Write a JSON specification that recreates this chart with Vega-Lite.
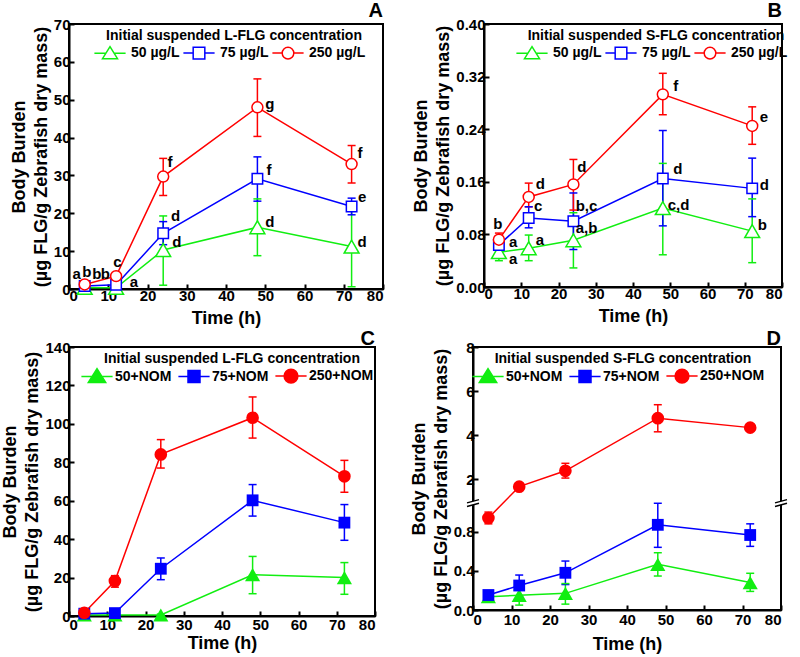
{
  "$schema": "https://vega.github.io/schema/vega-lite/v6.json",
  "padding": {"left": 0, "top": 0, "right": 2, "bottom": 0},
  "config": {
    "font": "Liberation Sans",
    "view": {"stroke": "black", "strokeWidth": 2},
    "axis": {"labelFont": "Liberation Sans", "labelFontSize": 15, "labelFontWeight": "bold", "labelColor": "black", "titleFont": "Liberation Sans", "titleFontSize": 18, "titleFontWeight": "bold", "titleColor": "black", "titleLineHeight": 22, "grid": false, "domainColor": "black", "domainWidth": 2, "tickColor": "black", "tickWidth": 2, "tickSize": -5, "labelPadding": 4, "titlePadding": 3},
    "axisX": {"titlePadding": 6},
    "title": {"font": "Liberation Sans", "fontSize": 20, "fontWeight": "bold", "anchor": "end", "offset": -4, "frame": "group", "color": "black"},
    "legend": {"titleFont": "Liberation Sans", "titleFontSize": 14, "titleFontWeight": "bold", "titleColor": "black", "labelFont": "Liberation Sans", "labelFontSize": 14, "labelFontWeight": "bold", "labelColor": "black", "titleAnchor": "middle", "titlePadding": 3, "titleLimit": 400, "labelLimit": 200, "symbolSize": 144, "symbolStrokeWidth": 1.5, "symbolOpacity": 1, "labelOffset": 14, "columnPadding": 0, "padding": 0, "direction": "horizontal", "orient": "none"},
    "text": {"font": "Liberation Sans", "fontSize": 15, "fontWeight": "bold", "color": "black"}
  },
  "resolve": {"scale": {"color": "independent", "stroke": "independent"}, "legend": {"color": "independent"}},
  "datasets": {
    "A": [
      {"t": 4, "s": "50 µg/L", "y": 0.3, "lo": 0, "hi": 0.5},
      {"t": 12, "s": "50 µg/L", "y": 0.3, "lo": 0, "hi": 0.6},
      {"t": 24, "s": "50 µg/L", "y": 10.3, "lo": 1.0, "hi": 19.3},
      {"t": 48, "s": "50 µg/L", "y": 16.3, "lo": 8.8, "hi": 23.8},
      {"t": 72, "s": "50 µg/L", "y": 11.2, "lo": 0.6, "hi": 22.0},
      {"t": 4, "s": "75 µg/L", "y": 0.8, "lo": 0.2, "hi": 1.3},
      {"t": 12, "s": "75 µg/L", "y": 1.1, "lo": 0.3, "hi": 1.8},
      {"t": 24, "s": "75 µg/L", "y": 14.7, "lo": 11.7, "hi": 17.8},
      {"t": 48, "s": "75 µg/L", "y": 29.1, "lo": 23.2, "hi": 34.9},
      {"t": 72, "s": "75 µg/L", "y": 21.8, "lo": 19.6, "hi": 24.0},
      {"t": 4, "s": "250 µg/L", "y": 1.2, "lo": 0.6, "hi": 1.8},
      {"t": 12, "s": "250 µg/L", "y": 3.4, "lo": 2.5, "hi": 4.3},
      {"t": 24, "s": "250 µg/L", "y": 29.7, "lo": 24.7, "hi": 34.5},
      {"t": 48, "s": "250 µg/L", "y": 48.0, "lo": 40.3, "hi": 55.5},
      {"t": 72, "s": "250 µg/L", "y": 33.0, "lo": 28.0, "hi": 37.9}
    ],
    "Alab": [
      {"t": 0.9, "y": 3.9, "l": "a"},
      {"t": 3.4, "y": 4.6, "l": "b"},
      {"t": 5.9, "y": 3.9, "l": "b"},
      {"t": 8.1, "y": 3.9, "l": "b"},
      {"t": 11.3, "y": 7.2, "l": "c"},
      {"t": 15.5, "y": 1.9, "l": "a"},
      {"t": 25.1, "y": 33.6, "l": "f"},
      {"t": 26.0, "y": 19.3, "l": "d"},
      {"t": 26.3, "y": 12.5, "l": "d"},
      {"t": 50.0, "y": 48.8, "l": "g"},
      {"t": 50.3, "y": 31.4, "l": "f"},
      {"t": 50.0, "y": 17.8, "l": "d"},
      {"t": 73.5, "y": 35.8, "l": "f"},
      {"t": 73.6, "y": 24.4, "l": "e"},
      {"t": 73.5, "y": 12.5, "l": "d"}
    ],
    "B": [
      {"t": 4, "s": "50 µg/L", "y": 0.053, "lo": 0.040, "hi": 0.062},
      {"t": 12, "s": "50 µg/L", "y": 0.059, "lo": 0.040, "hi": 0.079},
      {"t": 24, "s": "50 µg/L", "y": 0.071, "lo": 0.029, "hi": 0.113},
      {"t": 48, "s": "50 µg/L", "y": 0.120, "lo": 0.049, "hi": 0.188},
      {"t": 72, "s": "50 µg/L", "y": 0.085, "lo": 0.037, "hi": 0.134},
      {"t": 4, "s": "75 µg/L", "y": 0.064, "lo": 0.048, "hi": 0.073},
      {"t": 12, "s": "75 µg/L", "y": 0.105, "lo": 0.090, "hi": 0.122},
      {"t": 24, "s": "75 µg/L", "y": 0.100, "lo": 0.057, "hi": 0.143},
      {"t": 48, "s": "75 µg/L", "y": 0.165, "lo": 0.093, "hi": 0.238},
      {"t": 72, "s": "75 µg/L", "y": 0.150, "lo": 0.107, "hi": 0.196},
      {"t": 4, "s": "250 µg/L", "y": 0.072, "lo": 0.062, "hi": 0.082},
      {"t": 12, "s": "250 µg/L", "y": 0.137, "lo": 0.122, "hi": 0.158},
      {"t": 24, "s": "250 µg/L", "y": 0.156, "lo": 0.117, "hi": 0.194},
      {"t": 48, "s": "250 µg/L", "y": 0.293, "lo": 0.262, "hi": 0.325},
      {"t": 72, "s": "250 µg/L", "y": 0.245, "lo": 0.217, "hi": 0.274}
    ],
    "Blab": [
      {"t": 2.5, "y": 0.096, "l": "b"},
      {"t": 6.7, "y": 0.068, "l": "a"},
      {"t": 6.7, "y": 0.042, "l": "a"},
      {"t": 13.9, "y": 0.071, "l": "a"},
      {"t": 13.4, "y": 0.123, "l": "c"},
      {"t": 13.9, "y": 0.157, "l": "d"},
      {"t": 25.0, "y": 0.183, "l": "d"},
      {"t": 24.6, "y": 0.123, "l": "b,c"},
      {"t": 24.6, "y": 0.089, "l": "a,b"},
      {"t": 50.8, "y": 0.305, "l": "f"},
      {"t": 50.8, "y": 0.180, "l": "d"},
      {"t": 49.3, "y": 0.124, "l": "c,d"},
      {"t": 74.0, "y": 0.259, "l": "e"},
      {"t": 74.0, "y": 0.155, "l": "d"},
      {"t": 73.5, "y": 0.094, "l": "b"}
    ],
    "C": [
      {"t": 4, "s": "50+NOM", "y": 0.5, "lo": 0, "hi": 1.0},
      {"t": 12, "s": "50+NOM", "y": 0.5, "lo": 0, "hi": 1.0},
      {"t": 24, "s": "50+NOM", "y": 0.5, "lo": 0, "hi": 1.0},
      {"t": 48, "s": "50+NOM", "y": 21.5, "lo": 11.6, "hi": 31.0},
      {"t": 72, "s": "50+NOM", "y": 20.0, "lo": 11.3, "hi": 27.8},
      {"t": 4, "s": "75+NOM", "y": 1.2, "lo": 0.5, "hi": 2.0},
      {"t": 12, "s": "75+NOM", "y": 1.5, "lo": 0.7, "hi": 2.3},
      {"t": 24, "s": "75+NOM", "y": 24.6, "lo": 18.9, "hi": 30.2},
      {"t": 48, "s": "75+NOM", "y": 60.2, "lo": 52.0, "hi": 68.4},
      {"t": 72, "s": "75+NOM", "y": 48.6, "lo": 39.4, "hi": 58.0},
      {"t": 4, "s": "250+NOM", "y": 1.7, "lo": 0.8, "hi": 2.6},
      {"t": 12, "s": "250+NOM", "y": 18.2, "lo": 15.0, "hi": 21.0},
      {"t": 24, "s": "250+NOM", "y": 84.1, "lo": 77.0, "hi": 91.8},
      {"t": 48, "s": "250+NOM", "y": 103.2, "lo": 92.6, "hi": 114.0},
      {"t": 72, "s": "250+NOM", "y": 72.7, "lo": 64.4, "hi": 81.0}
    ],
    "D": [
      {"t": 4, "s": "50+NOM", "y": 0.136, "lo": 0.09, "hi": 0.17},
      {"t": 12, "s": "50+NOM", "y": 0.15, "lo": 0.05, "hi": 0.25},
      {"t": 24, "s": "50+NOM", "y": 0.17, "lo": 0.06, "hi": 0.27},
      {"t": 48, "s": "50+NOM", "y": 0.466, "lo": 0.347, "hi": 0.585},
      {"t": 72, "s": "50+NOM", "y": 0.28, "lo": 0.19, "hi": 0.375},
      {"t": 4, "s": "75+NOM", "y": 0.153, "lo": 0.13, "hi": 0.18},
      {"t": 12, "s": "75+NOM", "y": 0.25, "lo": 0.136, "hi": 0.357},
      {"t": 24, "s": "75+NOM", "y": 0.38, "lo": 0.26, "hi": 0.50},
      {"t": 48, "s": "75+NOM", "y": 0.87, "lo": 0.64, "hi": 1.09},
      {"t": 72, "s": "75+NOM", "y": 0.766, "lo": 0.65, "hi": 0.88},
      {"t": 4, "s": "250+NOM", "y": 0.94, "lo": 0.88, "hi": 1.0},
      {"t": 12, "s": "250+NOM", "y": 1.66, "lo": 1.6, "hi": 1.72},
      {"t": 24, "s": "250+NOM", "y": 2.38, "lo": 2.05, "hi": 2.72},
      {"t": 48, "s": "250+NOM", "y": 4.77, "lo": 4.15, "hi": 5.38},
      {"t": 72, "s": "250+NOM", "y": 4.34, "lo": 4.24, "hi": 4.44}
    ],
    "Dbreak": [
      {"t": 0, "y": 1.1},
      {"t": 80, "y": 1.1}
    ]
  },
  "spacing": 0,
  "vconcat": [
    {
      "spacing": 26,
      "resolve": {"scale": {"color": "independent", "stroke": "independent"}, "legend": {"color": "independent"}},
      "hconcat": [
        {
          "width": 314, "height": 265,
          "title": {"text": "A"},
          "data": {"name": "A"},
          "encoding": {"x": {"field": "t", "type": "quantitative", "scale": {"domain": [0, 80], "nice": false}, "axis": {"values": [0, 10, 20, 30, 40, 50, 60, 70, 80], "title": "Time (h)"}}},
          "layer": [
            {"mark": {"type": "rule", "strokeWidth": 1.5},
             "encoding": {"y": {"field": "lo", "type": "quantitative", "scale": {"domain": [0, 70], "nice": false}, "axis": {"values": [0, 10, 20, 30, 40, 50, 60, 70], "title": ["Body Burden", "(µg FLG/g Zebrafish dry mass)"]}}, "y2": {"field": "hi"},
               "stroke": {"field": "s", "type": "nominal", "scale": {"domain": ["250 µg/L", "75 µg/L", "50 µg/L"], "range": ["#ff0000", "#0000ff", "#11ee11"]}, "legend": null}}},
            {"mark": {"type": "point", "shape": "stroke", "size": 64, "strokeWidth": 1.5, "opacity": 1},
             "encoding": {"y": {"field": "lo", "type": "quantitative", "scale": {"domain": [0, 70], "nice": false}, "axis": {"values": [0, 10, 20, 30, 40, 50, 60, 70], "title": ["Body Burden", "(µg FLG/g Zebrafish dry mass)"]}},
               "stroke": {"field": "s", "type": "nominal", "scale": {"domain": ["250 µg/L", "75 µg/L", "50 µg/L"], "range": ["#ff0000", "#0000ff", "#11ee11"]}, "legend": null}}},
            {"mark": {"type": "point", "shape": "stroke", "size": 64, "strokeWidth": 1.5, "opacity": 1},
             "encoding": {"y": {"field": "hi", "type": "quantitative", "scale": {"domain": [0, 70], "nice": false}, "axis": {"values": [0, 10, 20, 30, 40, 50, 60, 70], "title": ["Body Burden", "(µg FLG/g Zebrafish dry mass)"]}},
               "stroke": {"field": "s", "type": "nominal", "scale": {"domain": ["250 µg/L", "75 µg/L", "50 µg/L"], "range": ["#ff0000", "#0000ff", "#11ee11"]}, "legend": null}}},
            {"mark": {"type": "line", "strokeWidth": 1.5},
             "encoding": {"y": {"field": "y", "type": "quantitative", "scale": {"domain": [0, 70], "nice": false}, "axis": {"values": [0, 10, 20, 30, 40, 50, 60, 70], "title": ["Body Burden", "(µg FLG/g Zebrafish dry mass)"]}},
               "stroke": {"field": "s", "type": "nominal", "scale": {"domain": ["250 µg/L", "75 µg/L", "50 µg/L"], "range": ["#ff0000", "#0000ff", "#11ee11"]}, "legend": null}}},
            {"transform": [{"filter": {"field": "s", "equal": "50 µg/L"}}],
             "mark": {"type": "point", "shape": "triangle-up", "size": 220, "filled": false, "fill": "white", "strokeWidth": 1.5, "opacity": 1},
             "encoding": {"y": {"field": "y", "type": "quantitative", "scale": {"domain": [0, 70], "nice": false}, "axis": {"values": [0, 10, 20, 30, 40, 50, 60, 70], "title": ["Body Burden", "(µg FLG/g Zebrafish dry mass)"]}},
               "color": {"field": "s", "type": "nominal", "scale": {"domain": ["50 µg/L", "75 µg/L", "250 µg/L"], "range": ["#11ee11", "#0000ff", "#ff0000"]},
                 "legend": {"title": "Initial suspended L-FLG concentration", "legendX": 34, "legendY": 5, "symbolFillColor": "white",
                   "symbolType": {"expr": "datum.value == '50 µg/L' ? 'M-2.6,0L-0.69,0M0.69,0L2.6,0M0,-1.1L1.25,0.9L-1.25,0.9Z' : datum.value == '75 µg/L' ? 'M-2.6,0L-0.97,0M0.97,0L2.6,0M-0.97,-0.97L0.97,-0.97L0.97,0.97L-0.97,0.97Z' : 'M-2.6,0L-0.97,0M0.97,0L2.6,0M0.97,0A0.97,0.97,0,1,1,-0.97,0A0.97,0.97,0,1,1,0.97,0Z'"}}}}},
            {"transform": [{"filter": {"field": "s", "equal": "75 µg/L"}}],
             "mark": {"type": "point", "shape": "square", "size": 110, "filled": false, "fill": "white", "strokeWidth": 1.5, "opacity": 1},
             "encoding": {"y": {"field": "y", "type": "quantitative", "scale": {"domain": [0, 70], "nice": false}, "axis": {"values": [0, 10, 20, 30, 40, 50, 60, 70], "title": ["Body Burden", "(µg FLG/g Zebrafish dry mass)"]}},
               "color": {"field": "s", "type": "nominal", "scale": {"domain": ["50 µg/L", "75 µg/L", "250 µg/L"], "range": ["#11ee11", "#0000ff", "#ff0000"]},
                 "legend": {"title": "Initial suspended L-FLG concentration", "legendX": 34, "legendY": 5, "symbolFillColor": "white",
                   "symbolType": {"expr": "datum.value == '50 µg/L' ? 'M-2.6,0L-0.69,0M0.69,0L2.6,0M0,-1.1L1.25,0.9L-1.25,0.9Z' : datum.value == '75 µg/L' ? 'M-2.6,0L-0.97,0M0.97,0L2.6,0M-0.97,-0.97L0.97,-0.97L0.97,0.97L-0.97,0.97Z' : 'M-2.6,0L-0.97,0M0.97,0L2.6,0M0.97,0A0.97,0.97,0,1,1,-0.97,0A0.97,0.97,0,1,1,0.97,0Z'"}}}}},
            {"transform": [{"filter": {"field": "s", "equal": "250 µg/L"}}],
             "mark": {"type": "point", "shape": "circle", "size": 120, "filled": false, "fill": "white", "strokeWidth": 1.5, "opacity": 1},
             "encoding": {"y": {"field": "y", "type": "quantitative", "scale": {"domain": [0, 70], "nice": false}, "axis": {"values": [0, 10, 20, 30, 40, 50, 60, 70], "title": ["Body Burden", "(µg FLG/g Zebrafish dry mass)"]}},
               "color": {"field": "s", "type": "nominal", "scale": {"domain": ["50 µg/L", "75 µg/L", "250 µg/L"], "range": ["#11ee11", "#0000ff", "#ff0000"]},
                 "legend": {"title": "Initial suspended L-FLG concentration", "legendX": 34, "legendY": 5, "symbolFillColor": "white",
                   "symbolType": {"expr": "datum.value == '50 µg/L' ? 'M-2.6,0L-0.69,0M0.69,0L2.6,0M0,-1.1L1.25,0.9L-1.25,0.9Z' : datum.value == '75 µg/L' ? 'M-2.6,0L-0.97,0M0.97,0L2.6,0M-0.97,-0.97L0.97,-0.97L0.97,0.97L-0.97,0.97Z' : 'M-2.6,0L-0.97,0M0.97,0L2.6,0M0.97,0A0.97,0.97,0,1,1,-0.97,0A0.97,0.97,0,1,1,0.97,0Z'"}}}}},
            {"data": {"name": "Alab"}, "mark": {"type": "text", "align": "left", "baseline": "middle"},
             "encoding": {"y": {"field": "y", "type": "quantitative", "scale": {"domain": [0, 70], "nice": false}, "axis": {"values": [0, 10, 20, 30, 40, 50, 60, 70], "title": ["Body Burden", "(µg FLG/g Zebrafish dry mass)"]}}, "text": {"field": "l"}}}
          ]
        },
        {
          "width": 298, "height": 263,
          "title": {"text": "B"},
          "data": {"name": "B"},
          "encoding": {"x": {"field": "t", "type": "quantitative", "scale": {"domain": [0, 80], "nice": false}, "axis": {"values": [0, 10, 20, 30, 40, 50, 60, 70, 80], "title": "Time (h)"}}},
          "layer": [
            {"mark": {"type": "rule", "strokeWidth": 1.5},
             "encoding": {"y": {"field": "lo", "type": "quantitative", "scale": {"domain": [0, 0.4], "nice": false}, "axis": {"values": [0, 0.08, 0.16, 0.24, 0.32, 0.4], "format": ".2f", "title": ["Body Burden", "(µg FLG/g Zebrafish dry mass)"]}}, "y2": {"field": "hi"},
               "stroke": {"field": "s", "type": "nominal", "scale": {"domain": ["250 µg/L", "75 µg/L", "50 µg/L"], "range": ["#ff0000", "#0000ff", "#11ee11"]}, "legend": null}}},
            {"mark": {"type": "point", "shape": "stroke", "size": 64, "strokeWidth": 1.5, "opacity": 1},
             "encoding": {"y": {"field": "lo", "type": "quantitative", "scale": {"domain": [0, 0.4], "nice": false}, "axis": {"values": [0, 0.08, 0.16, 0.24, 0.32, 0.4], "format": ".2f", "title": ["Body Burden", "(µg FLG/g Zebrafish dry mass)"]}},
               "stroke": {"field": "s", "type": "nominal", "scale": {"domain": ["250 µg/L", "75 µg/L", "50 µg/L"], "range": ["#ff0000", "#0000ff", "#11ee11"]}, "legend": null}}},
            {"mark": {"type": "point", "shape": "stroke", "size": 64, "strokeWidth": 1.5, "opacity": 1},
             "encoding": {"y": {"field": "hi", "type": "quantitative", "scale": {"domain": [0, 0.4], "nice": false}, "axis": {"values": [0, 0.08, 0.16, 0.24, 0.32, 0.4], "format": ".2f", "title": ["Body Burden", "(µg FLG/g Zebrafish dry mass)"]}},
               "stroke": {"field": "s", "type": "nominal", "scale": {"domain": ["250 µg/L", "75 µg/L", "50 µg/L"], "range": ["#ff0000", "#0000ff", "#11ee11"]}, "legend": null}}},
            {"mark": {"type": "line", "strokeWidth": 1.5},
             "encoding": {"y": {"field": "y", "type": "quantitative", "scale": {"domain": [0, 0.4], "nice": false}, "axis": {"values": [0, 0.08, 0.16, 0.24, 0.32, 0.4], "format": ".2f", "title": ["Body Burden", "(µg FLG/g Zebrafish dry mass)"]}},
               "stroke": {"field": "s", "type": "nominal", "scale": {"domain": ["250 µg/L", "75 µg/L", "50 µg/L"], "range": ["#ff0000", "#0000ff", "#11ee11"]}, "legend": null}}},
            {"transform": [{"filter": {"field": "s", "equal": "50 µg/L"}}],
             "mark": {"type": "point", "shape": "triangle-up", "size": 220, "filled": false, "fill": "white", "strokeWidth": 1.5, "opacity": 1},
             "encoding": {"y": {"field": "y", "type": "quantitative", "scale": {"domain": [0, 0.4], "nice": false}, "axis": {"values": [0, 0.08, 0.16, 0.24, 0.32, 0.4], "format": ".2f", "title": ["Body Burden", "(µg FLG/g Zebrafish dry mass)"]}},
               "color": {"field": "s", "type": "nominal", "scale": {"domain": ["50 µg/L", "75 µg/L", "250 µg/L"], "range": ["#11ee11", "#0000ff", "#ff0000"]},
                 "legend": {"title": "Initial suspended S-FLG concentration", "legendX": 41, "legendY": 5, "symbolFillColor": "white",
                   "symbolType": {"expr": "datum.value == '50 µg/L' ? 'M-2.6,0L-0.69,0M0.69,0L2.6,0M0,-1.1L1.25,0.9L-1.25,0.9Z' : datum.value == '75 µg/L' ? 'M-2.6,0L-0.97,0M0.97,0L2.6,0M-0.97,-0.97L0.97,-0.97L0.97,0.97L-0.97,0.97Z' : 'M-2.6,0L-0.97,0M0.97,0L2.6,0M0.97,0A0.97,0.97,0,1,1,-0.97,0A0.97,0.97,0,1,1,0.97,0Z'"}}}}},
            {"transform": [{"filter": {"field": "s", "equal": "75 µg/L"}}],
             "mark": {"type": "point", "shape": "square", "size": 110, "filled": false, "fill": "white", "strokeWidth": 1.5, "opacity": 1},
             "encoding": {"y": {"field": "y", "type": "quantitative", "scale": {"domain": [0, 0.4], "nice": false}, "axis": {"values": [0, 0.08, 0.16, 0.24, 0.32, 0.4], "format": ".2f", "title": ["Body Burden", "(µg FLG/g Zebrafish dry mass)"]}},
               "color": {"field": "s", "type": "nominal", "scale": {"domain": ["50 µg/L", "75 µg/L", "250 µg/L"], "range": ["#11ee11", "#0000ff", "#ff0000"]},
                 "legend": {"title": "Initial suspended S-FLG concentration", "legendX": 41, "legendY": 5, "symbolFillColor": "white",
                   "symbolType": {"expr": "datum.value == '50 µg/L' ? 'M-2.6,0L-0.69,0M0.69,0L2.6,0M0,-1.1L1.25,0.9L-1.25,0.9Z' : datum.value == '75 µg/L' ? 'M-2.6,0L-0.97,0M0.97,0L2.6,0M-0.97,-0.97L0.97,-0.97L0.97,0.97L-0.97,0.97Z' : 'M-2.6,0L-0.97,0M0.97,0L2.6,0M0.97,0A0.97,0.97,0,1,1,-0.97,0A0.97,0.97,0,1,1,0.97,0Z'"}}}}},
            {"transform": [{"filter": {"field": "s", "equal": "250 µg/L"}}],
             "mark": {"type": "point", "shape": "circle", "size": 120, "filled": false, "fill": "white", "strokeWidth": 1.5, "opacity": 1},
             "encoding": {"y": {"field": "y", "type": "quantitative", "scale": {"domain": [0, 0.4], "nice": false}, "axis": {"values": [0, 0.08, 0.16, 0.24, 0.32, 0.4], "format": ".2f", "title": ["Body Burden", "(µg FLG/g Zebrafish dry mass)"]}},
               "color": {"field": "s", "type": "nominal", "scale": {"domain": ["50 µg/L", "75 µg/L", "250 µg/L"], "range": ["#11ee11", "#0000ff", "#ff0000"]},
                 "legend": {"title": "Initial suspended S-FLG concentration", "legendX": 41, "legendY": 5, "symbolFillColor": "white",
                   "symbolType": {"expr": "datum.value == '50 µg/L' ? 'M-2.6,0L-0.69,0M0.69,0L2.6,0M0,-1.1L1.25,0.9L-1.25,0.9Z' : datum.value == '75 µg/L' ? 'M-2.6,0L-0.97,0M0.97,0L2.6,0M-0.97,-0.97L0.97,-0.97L0.97,0.97L-0.97,0.97Z' : 'M-2.6,0L-0.97,0M0.97,0L2.6,0M0.97,0A0.97,0.97,0,1,1,-0.97,0A0.97,0.97,0,1,1,0.97,0Z'"}}}}},
            {"data": {"name": "Blab"}, "mark": {"type": "text", "align": "left", "baseline": "middle"},
             "encoding": {"y": {"field": "y", "type": "quantitative", "scale": {"domain": [0, 0.4], "nice": false}, "axis": {"values": [0, 0.08, 0.16, 0.24, 0.32, 0.4], "format": ".2f", "title": ["Body Burden", "(µg FLG/g Zebrafish dry mass)"]}}, "text": {"field": "l"}}}
          ]
        }
      ]
    },
    {
      "spacing": 32,
      "resolve": {"scale": {"color": "independent", "stroke": "independent"}, "legend": {"color": "independent"}},
      "hconcat": [
        {
          "width": 306, "height": 269,
          "title": {"text": "C", "offset": -9},
          "data": {"name": "C"},
          "encoding": {"x": {"field": "t", "type": "quantitative", "scale": {"domain": [0, 80], "nice": false}, "axis": {"values": [0, 10, 20, 30, 40, 50, 60, 70, 80], "title": "Time (h)", "titlePadding": 2, "labelPadding": 6}}},
          "layer": [
            {"mark": {"type": "rule", "strokeWidth": 1.5},
             "encoding": {"y": {"field": "lo", "type": "quantitative", "scale": {"domain": [0, 140], "nice": false}, "axis": {"values": [0, 20, 40, 60, 80, 100, 120, 140], "title": ["Body Burden", "(µg FLG/g Zebrafish dry mass)"]}}, "y2": {"field": "hi"},
               "stroke": {"field": "s", "type": "nominal", "scale": {"domain": ["250+NOM", "75+NOM", "50+NOM"], "range": ["#ff0000", "#0000ff", "#11ee11"]}, "legend": null}}},
            {"mark": {"type": "point", "shape": "stroke", "size": 64, "strokeWidth": 1.5, "opacity": 1},
             "encoding": {"y": {"field": "lo", "type": "quantitative", "scale": {"domain": [0, 140], "nice": false}, "axis": {"values": [0, 20, 40, 60, 80, 100, 120, 140], "title": ["Body Burden", "(µg FLG/g Zebrafish dry mass)"]}},
               "stroke": {"field": "s", "type": "nominal", "scale": {"domain": ["250+NOM", "75+NOM", "50+NOM"], "range": ["#ff0000", "#0000ff", "#11ee11"]}, "legend": null}}},
            {"mark": {"type": "point", "shape": "stroke", "size": 64, "strokeWidth": 1.5, "opacity": 1},
             "encoding": {"y": {"field": "hi", "type": "quantitative", "scale": {"domain": [0, 140], "nice": false}, "axis": {"values": [0, 20, 40, 60, 80, 100, 120, 140], "title": ["Body Burden", "(µg FLG/g Zebrafish dry mass)"]}},
               "stroke": {"field": "s", "type": "nominal", "scale": {"domain": ["250+NOM", "75+NOM", "50+NOM"], "range": ["#ff0000", "#0000ff", "#11ee11"]}, "legend": null}}},
            {"mark": {"type": "line", "strokeWidth": 1.5},
             "encoding": {"y": {"field": "y", "type": "quantitative", "scale": {"domain": [0, 140], "nice": false}, "axis": {"values": [0, 20, 40, 60, 80, 100, 120, 140], "title": ["Body Burden", "(µg FLG/g Zebrafish dry mass)"]}},
               "stroke": {"field": "s", "type": "nominal", "scale": {"domain": ["250+NOM", "75+NOM", "50+NOM"], "range": ["#ff0000", "#0000ff", "#11ee11"]}, "legend": null}}},
            {"transform": [{"filter": {"field": "s", "equal": "50+NOM"}}],
             "mark": {"type": "point", "shape": "triangle-up", "size": 230, "filled": true, "opacity": 1},
             "encoding": {"y": {"field": "y", "type": "quantitative", "scale": {"domain": [0, 140], "nice": false}, "axis": {"values": [0, 20, 40, 60, 80, 100, 120, 140], "title": ["Body Burden", "(µg FLG/g Zebrafish dry mass)"]}},
               "color": {"field": "s", "type": "nominal", "scale": {"domain": ["50+NOM", "75+NOM", "250+NOM"], "range": ["#11ee11", "#0000ff", "#ff0000"]},
                 "legend": {"title": "Initial suspended L-FLG concentration", "legendX": 21, "legendY": 5, "columnPadding": 3, "labelOffset": 11,
                   "symbolStrokeColor": {"expr": "datum.value == '50+NOM' ? '#11ee11' : datum.value == '75+NOM' ? '#0000ff' : '#ff0000'"},
                   "symbolType": {"expr": "datum.value == '50+NOM' ? 'M-2.6,0L-0.7,0M0.7,0L2.6,0M0,-1.3L1.45,1.0L-1.45,1.0Z' : datum.value == '75+NOM' ? 'M-2.6,0L-1,0M1,0L2.6,0M-1,-1L1,-1L1,1L-1,1Z' : 'M-2.6,0L-1.15,0M1.15,0L2.6,0M1.15,0A1.15,1.15,0,1,1,-1.15,0A1.15,1.15,0,1,1,1.15,0Z'"}}}}},
            {"transform": [{"filter": {"field": "s", "equal": "75+NOM"}}],
             "mark": {"type": "point", "shape": "square", "size": 140, "filled": true, "opacity": 1},
             "encoding": {"y": {"field": "y", "type": "quantitative", "scale": {"domain": [0, 140], "nice": false}, "axis": {"values": [0, 20, 40, 60, 80, 100, 120, 140], "title": ["Body Burden", "(µg FLG/g Zebrafish dry mass)"]}},
               "color": {"field": "s", "type": "nominal", "scale": {"domain": ["50+NOM", "75+NOM", "250+NOM"], "range": ["#11ee11", "#0000ff", "#ff0000"]},
                 "legend": {"title": "Initial suspended L-FLG concentration", "legendX": 21, "legendY": 5, "columnPadding": 3, "labelOffset": 11,
                   "symbolStrokeColor": {"expr": "datum.value == '50+NOM' ? '#11ee11' : datum.value == '75+NOM' ? '#0000ff' : '#ff0000'"},
                   "symbolType": {"expr": "datum.value == '50+NOM' ? 'M-2.6,0L-0.7,0M0.7,0L2.6,0M0,-1.3L1.45,1.0L-1.45,1.0Z' : datum.value == '75+NOM' ? 'M-2.6,0L-1,0M1,0L2.6,0M-1,-1L1,-1L1,1L-1,1Z' : 'M-2.6,0L-1.15,0M1.15,0L2.6,0M1.15,0A1.15,1.15,0,1,1,-1.15,0A1.15,1.15,0,1,1,1.15,0Z'"}}}}},
            {"transform": [{"filter": {"field": "s", "equal": "250+NOM"}}],
             "mark": {"type": "point", "shape": "circle", "size": 160, "filled": true, "opacity": 1},
             "encoding": {"y": {"field": "y", "type": "quantitative", "scale": {"domain": [0, 140], "nice": false}, "axis": {"values": [0, 20, 40, 60, 80, 100, 120, 140], "title": ["Body Burden", "(µg FLG/g Zebrafish dry mass)"]}},
               "color": {"field": "s", "type": "nominal", "scale": {"domain": ["50+NOM", "75+NOM", "250+NOM"], "range": ["#11ee11", "#0000ff", "#ff0000"]},
                 "legend": {"title": "Initial suspended L-FLG concentration", "legendX": 21, "legendY": 5, "columnPadding": 3, "labelOffset": 11,
                   "symbolStrokeColor": {"expr": "datum.value == '50+NOM' ? '#11ee11' : datum.value == '75+NOM' ? '#0000ff' : '#ff0000'"},
                   "symbolType": {"expr": "datum.value == '50+NOM' ? 'M-2.6,0L-0.7,0M0.7,0L2.6,0M0,-1.3L1.45,1.0L-1.45,1.0Z' : datum.value == '75+NOM' ? 'M-2.6,0L-1,0M1,0L2.6,0M-1,-1L1,-1L1,1L-1,1Z' : 'M-2.6,0L-1.15,0M1.15,0L2.6,0M1.15,0A1.15,1.15,0,1,1,-1.15,0A1.15,1.15,0,1,1,1.15,0Z'"}}}}}
          ]
        },
        {
          "width": 308, "height": 263,
          "title": {"text": "D", "offset": -9},
          "data": {"name": "D"},
          "encoding": {"x": {"field": "t", "type": "quantitative", "scale": {"domain": [0, 80], "nice": false}, "axis": {"values": [0, 10, 20, 30, 40, 50, 60, 70, 80], "title": "Time (h)", "titlePadding": 8, "labelPadding": 7}}},
          "layer": [
            {"mark": {"type": "rule", "strokeWidth": 1.5},
             "encoding": {"y": {"field": "lo", "type": "quantitative", "scale": {"domain": [0, 1.1, 1.10001, 8], "range": [263, 155.3, 152, 0], "nice": false, "zero": false}, "axis": {"values": [0, 0.4, 0.8, 2, 4, 6, 8], "labelExpr": "datum.value < 1.5 ? format(datum.value, '.1f') : format(datum.value, 'd')", "title": ["Body Burden", "(µg FLG/g Zebrafish dry mass)"]}}, "y2": {"field": "hi"},
               "stroke": {"field": "s", "type": "nominal", "scale": {"domain": ["250+NOM", "75+NOM", "50+NOM"], "range": ["#ff0000", "#0000ff", "#11ee11"]}, "legend": null}}},
            {"mark": {"type": "point", "shape": "stroke", "size": 64, "strokeWidth": 1.5, "opacity": 1},
             "encoding": {"y": {"field": "lo", "type": "quantitative", "scale": {"domain": [0, 1.1, 1.10001, 8], "range": [263, 155.3, 152, 0], "nice": false, "zero": false}, "axis": {"values": [0, 0.4, 0.8, 2, 4, 6, 8], "labelExpr": "datum.value < 1.5 ? format(datum.value, '.1f') : format(datum.value, 'd')", "title": ["Body Burden", "(µg FLG/g Zebrafish dry mass)"]}},
               "stroke": {"field": "s", "type": "nominal", "scale": {"domain": ["250+NOM", "75+NOM", "50+NOM"], "range": ["#ff0000", "#0000ff", "#11ee11"]}, "legend": null}}},
            {"mark": {"type": "point", "shape": "stroke", "size": 64, "strokeWidth": 1.5, "opacity": 1},
             "encoding": {"y": {"field": "hi", "type": "quantitative", "scale": {"domain": [0, 1.1, 1.10001, 8], "range": [263, 155.3, 152, 0], "nice": false, "zero": false}, "axis": {"values": [0, 0.4, 0.8, 2, 4, 6, 8], "labelExpr": "datum.value < 1.5 ? format(datum.value, '.1f') : format(datum.value, 'd')", "title": ["Body Burden", "(µg FLG/g Zebrafish dry mass)"]}},
               "stroke": {"field": "s", "type": "nominal", "scale": {"domain": ["250+NOM", "75+NOM", "50+NOM"], "range": ["#ff0000", "#0000ff", "#11ee11"]}, "legend": null}}},
            {"mark": {"type": "line", "strokeWidth": 1.5},
             "encoding": {"y": {"field": "y", "type": "quantitative", "scale": {"domain": [0, 1.1, 1.10001, 8], "range": [263, 155.3, 152, 0], "nice": false, "zero": false}, "axis": {"values": [0, 0.4, 0.8, 2, 4, 6, 8], "labelExpr": "datum.value < 1.5 ? format(datum.value, '.1f') : format(datum.value, 'd')", "title": ["Body Burden", "(µg FLG/g Zebrafish dry mass)"]}},
               "stroke": {"field": "s", "type": "nominal", "scale": {"domain": ["250+NOM", "75+NOM", "50+NOM"], "range": ["#ff0000", "#0000ff", "#11ee11"]}, "legend": null}}},
            {"transform": [{"filter": {"field": "s", "equal": "50+NOM"}}],
             "mark": {"type": "point", "shape": "triangle-up", "size": 230, "filled": true, "opacity": 1},
             "encoding": {"y": {"field": "y", "type": "quantitative", "scale": {"domain": [0, 1.1, 1.10001, 8], "range": [263, 155.3, 152, 0], "nice": false, "zero": false}, "axis": {"values": [0, 0.4, 0.8, 2, 4, 6, 8], "labelExpr": "datum.value < 1.5 ? format(datum.value, '.1f') : format(datum.value, 'd')", "title": ["Body Burden", "(µg FLG/g Zebrafish dry mass)"]}},
               "color": {"field": "s", "type": "nominal", "scale": {"domain": ["50+NOM", "75+NOM", "250+NOM"], "range": ["#11ee11", "#0000ff", "#ff0000"]},
                 "legend": {"title": "Initial suspended S-FLG concentration", "legendX": 8, "legendY": 5, "columnPadding": 3, "labelOffset": 11,
                   "symbolStrokeColor": {"expr": "datum.value == '50+NOM' ? '#11ee11' : datum.value == '75+NOM' ? '#0000ff' : '#ff0000'"},
                   "symbolType": {"expr": "datum.value == '50+NOM' ? 'M-2.6,0L-0.7,0M0.7,0L2.6,0M0,-1.3L1.45,1.0L-1.45,1.0Z' : datum.value == '75+NOM' ? 'M-2.6,0L-1,0M1,0L2.6,0M-1,-1L1,-1L1,1L-1,1Z' : 'M-2.6,0L-1.15,0M1.15,0L2.6,0M1.15,0A1.15,1.15,0,1,1,-1.15,0A1.15,1.15,0,1,1,1.15,0Z'"}}}}},
            {"transform": [{"filter": {"field": "s", "equal": "75+NOM"}}],
             "mark": {"type": "point", "shape": "square", "size": 140, "filled": true, "opacity": 1},
             "encoding": {"y": {"field": "y", "type": "quantitative", "scale": {"domain": [0, 1.1, 1.10001, 8], "range": [263, 155.3, 152, 0], "nice": false, "zero": false}, "axis": {"values": [0, 0.4, 0.8, 2, 4, 6, 8], "labelExpr": "datum.value < 1.5 ? format(datum.value, '.1f') : format(datum.value, 'd')", "title": ["Body Burden", "(µg FLG/g Zebrafish dry mass)"]}},
               "color": {"field": "s", "type": "nominal", "scale": {"domain": ["50+NOM", "75+NOM", "250+NOM"], "range": ["#11ee11", "#0000ff", "#ff0000"]},
                 "legend": {"title": "Initial suspended S-FLG concentration", "legendX": 8, "legendY": 5, "columnPadding": 3, "labelOffset": 11,
                   "symbolStrokeColor": {"expr": "datum.value == '50+NOM' ? '#11ee11' : datum.value == '75+NOM' ? '#0000ff' : '#ff0000'"},
                   "symbolType": {"expr": "datum.value == '50+NOM' ? 'M-2.6,0L-0.7,0M0.7,0L2.6,0M0,-1.3L1.45,1.0L-1.45,1.0Z' : datum.value == '75+NOM' ? 'M-2.6,0L-1,0M1,0L2.6,0M-1,-1L1,-1L1,1L-1,1Z' : 'M-2.6,0L-1.15,0M1.15,0L2.6,0M1.15,0A1.15,1.15,0,1,1,-1.15,0A1.15,1.15,0,1,1,1.15,0Z'"}}}}},
            {"transform": [{"filter": {"field": "s", "equal": "250+NOM"}}],
             "mark": {"type": "point", "shape": "circle", "size": 160, "filled": true, "opacity": 1},
             "encoding": {"y": {"field": "y", "type": "quantitative", "scale": {"domain": [0, 1.1, 1.10001, 8], "range": [263, 155.3, 152, 0], "nice": false, "zero": false}, "axis": {"values": [0, 0.4, 0.8, 2, 4, 6, 8], "labelExpr": "datum.value < 1.5 ? format(datum.value, '.1f') : format(datum.value, 'd')", "title": ["Body Burden", "(µg FLG/g Zebrafish dry mass)"]}},
               "color": {"field": "s", "type": "nominal", "scale": {"domain": ["50+NOM", "75+NOM", "250+NOM"], "range": ["#11ee11", "#0000ff", "#ff0000"]},
                 "legend": {"title": "Initial suspended S-FLG concentration", "legendX": 8, "legendY": 5, "columnPadding": 3, "labelOffset": 11,
                   "symbolStrokeColor": {"expr": "datum.value == '50+NOM' ? '#11ee11' : datum.value == '75+NOM' ? '#0000ff' : '#ff0000'"},
                   "symbolType": {"expr": "datum.value == '50+NOM' ? 'M-2.6,0L-0.7,0M0.7,0L2.6,0M0,-1.3L1.45,1.0L-1.45,1.0Z' : datum.value == '75+NOM' ? 'M-2.6,0L-1,0M1,0L2.6,0M-1,-1L1,-1L1,1L-1,1Z' : 'M-2.6,0L-1.15,0M1.15,0L2.6,0M1.15,0A1.15,1.15,0,1,1,-1.15,0A1.15,1.15,0,1,1,1.15,0Z'"}}}}},
            {"data": {"name": "Dbreak"}, "mark": {"type": "point", "shape": "M-1,0.1L1,-0.45L1,0.15L-1,0.7Z", "filled": true, "fill": "white", "strokeWidth": 0, "size": 144, "opacity": 1},
             "encoding": {"y": {"field": "y", "type": "quantitative", "scale": {"domain": [0, 1.1, 1.10001, 8], "range": [263, 155.3, 152, 0], "nice": false, "zero": false}, "axis": {"values": [0, 0.4, 0.8, 2, 4, 6, 8], "labelExpr": "datum.value < 1.5 ? format(datum.value, '.1f') : format(datum.value, 'd')", "title": ["Body Burden", "(µg FLG/g Zebrafish dry mass)"]}}}},
            {"data": {"name": "Dbreak"}, "mark": {"type": "point", "shape": "M-1,0.1L1,-0.45M-1,0.7L1,0.15", "filled": false, "stroke": "black", "strokeWidth": 1.5, "size": 144, "opacity": 1},
             "encoding": {"y": {"field": "y", "type": "quantitative", "scale": {"domain": [0, 1.1, 1.10001, 8], "range": [263, 155.3, 152, 0], "nice": false, "zero": false}, "axis": {"values": [0, 0.4, 0.8, 2, 4, 6, 8], "labelExpr": "datum.value < 1.5 ? format(datum.value, '.1f') : format(datum.value, 'd')", "title": ["Body Burden", "(µg FLG/g Zebrafish dry mass)"]}}}}
          ]
        }
      ]
    }
  ]
}
